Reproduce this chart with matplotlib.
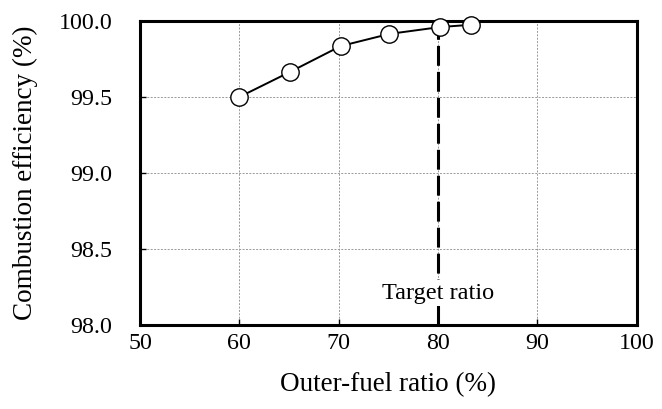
import matplotlib.pyplot as plt

plt.rcParams['font.family'] = ['Liberation Serif', 'DejaVu Serif']

# data
outer_fuel_ratio = [60, 65.1, 70.2, 75.1, 80.2, 83.3]
combustion_eff = [99.50, 99.665, 99.835, 99.915, 99.96, 99.975]
target_ratio = 80
x_ticks = [50, 60, 70, 80, 90, 100]
y_ticks = [98.0, 98.5, 99.0, 99.5, 100.0]

fig = plt.figure(figsize=(6.62, 4.09), dpi=100)
ax = fig.add_axes([0.2115, 0.2054, 0.7505, 0.7433])

ax.grid(True, color='#999999', linestyle=(0, (2, 1.5)), linewidth=0.7)
ax.set_axisbelow(True)

# target line
ax.plot([target_ratio, target_ratio], [98.0, 100.0], color='black', lw=2.2,
        linestyle=(0, (6.5, 2)), zorder=2)
ax.text(target_ratio, 98.21, 'Target ratio', ha='center', va='center',
        fontsize=17.5, zorder=3,
        bbox=dict(facecolor='white', edgecolor='none', pad=2))

ax.plot(outer_fuel_ratio, combustion_eff, color='black', lw=1.4,
        marker='o', markersize=12.5, markerfacecolor='white',
        markeredgecolor='black', markeredgewidth=1.0, zorder=4, clip_on=False)

ax.set_xlim(50, 100)
ax.set_ylim(98.0, 100.0)
ax.set_xticks(x_ticks)
ax.set_yticks(y_ticks)
ax.set_yticklabels([f'{v:.1f}' for v in y_ticks])
ax.tick_params(direction='in', length=4, width=1, labelsize=17.3)
ax.tick_params(axis='x', pad=6)
ax.tick_params(axis='y', pad=20)

for s in ax.spines.values():
    s.set_linewidth(2.2)

ax.set_xlabel('Outer-fuel ratio (%)', fontsize=19.5, labelpad=13)
ax.set_ylabel('Combustion efficiency (%)', fontsize=19.5, labelpad=15)

fig.savefig('out.png', dpi=100)
